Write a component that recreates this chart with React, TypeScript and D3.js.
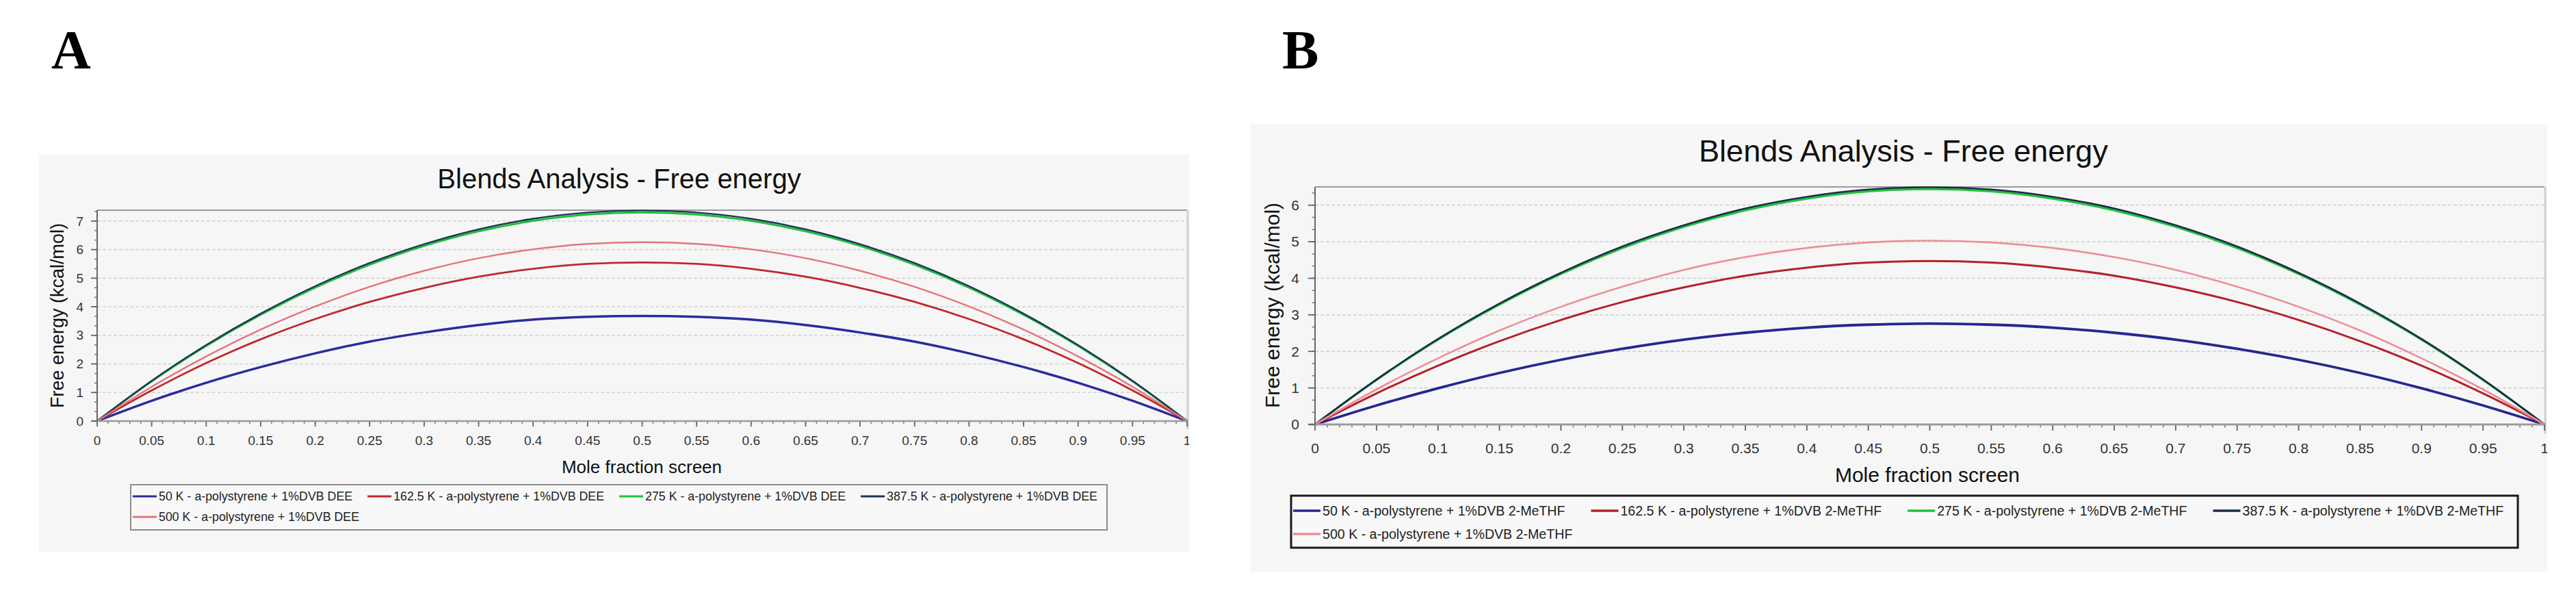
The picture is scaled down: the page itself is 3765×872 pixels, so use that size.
import * as d3 from 'd3';
import { useEffect, useRef } from 'react';

// mole fraction of screen (x values shared by every curve)
const moleFraction = [
  0, 0.05, 0.1, 0.15, 0.2, 0.25, 0.3, 0.35, 0.4, 0.45, 0.5, 0.55, 0.6, 0.65, 0.7,
  0.75, 0.8, 0.85, 0.9, 0.95, 1,
];

const xTickValues = [
  0, 0.05, 0.1, 0.15, 0.2, 0.25, 0.3, 0.35, 0.4, 0.45, 0.5, 0.55, 0.6, 0.65, 0.7,
  0.75, 0.8, 0.85, 0.9, 0.95, 1,
];
const yTicksA = [0, 1, 2, 3, 4, 5, 6, 7];
const yTicksB = [0, 1, 2, 3, 4, 5, 6];

// panel A - DEE (kcal/mol)
const deeK50 = [0, 0.71, 1.34, 1.89, 2.37, 2.78, 3.1, 3.36, 3.55, 3.65, 3.68, 3.65, 3.55, 3.36, 3.1, 2.78, 2.37, 1.89, 1.34, 0.71, 0];
const deeK162 = [0, 1.07, 2.03, 2.86, 3.57, 4.17, 4.66, 5.05, 5.33, 5.5, 5.55, 5.5, 5.33, 5.05, 4.66, 4.17, 3.57, 2.86, 2.03, 1.07, 0];
const deeK275 = [0, 1.39, 2.63, 3.72, 4.67, 5.47, 6.13, 6.64, 7.01, 7.23, 7.3, 7.23, 7.01, 6.64, 6.13, 5.47, 4.67, 3.72, 2.63, 1.39, 0];
const deeK387 = [0, 1.41, 2.66, 3.76, 4.72, 5.53, 6.19, 6.71, 7.08, 7.3, 7.37, 7.3, 7.08, 6.71, 6.19, 5.53, 4.72, 3.76, 2.66, 1.41, 0];
const deeK500 = [0, 1.2, 2.26, 3.2, 4.01, 4.7, 5.26, 5.7, 6.01, 6.2, 6.26, 6.2, 6.01, 5.7, 5.26, 4.7, 4.01, 3.2, 2.26, 1.2, 0];

// panel B - 2-MeTHF (kcal/mol)
const thfK50 = [0, 0.52, 0.99, 1.41, 1.77, 2.07, 2.32, 2.51, 2.65, 2.73, 2.76, 2.73, 2.65, 2.51, 2.32, 2.07, 1.77, 1.41, 0.99, 0.52, 0];
const thfK162 = [0, 0.85, 1.61, 2.28, 2.86, 3.35, 3.75, 4.07, 4.29, 4.43, 4.47, 4.43, 4.29, 4.07, 3.75, 3.35, 2.86, 2.28, 1.61, 0.85, 0];
const thfK275 = [0, 1.22, 2.32, 3.28, 4.12, 4.83, 5.41, 5.86, 6.18, 6.38, 6.44, 6.38, 6.18, 5.86, 5.41, 4.83, 4.12, 3.28, 2.32, 1.22, 0];
const thfK387 = [0, 1.23, 2.34, 3.31, 4.15, 4.87, 5.45, 5.91, 6.23, 6.43, 6.49, 6.43, 6.23, 5.91, 5.45, 4.87, 4.15, 3.31, 2.34, 1.23, 0];
const thfK500 = [0, 0.96, 1.81, 2.57, 3.22, 3.77, 4.23, 4.58, 4.83, 4.98, 5.03, 4.98, 4.83, 4.58, 4.23, 3.77, 3.22, 2.57, 1.81, 0.96, 0];

const legendA = [
  '50 K - a-polystyrene + 1%DVB DEE',
  '162.5 K - a-polystyrene + 1%DVB DEE',
  '275 K - a-polystyrene + 1%DVB DEE',
  '387.5 K - a-polystyrene + 1%DVB DEE',
  '500 K - a-polystyrene + 1%DVB DEE',
];
const legendB = [
  '50 K - a-polystyrene + 1%DVB 2-MeTHF',
  '162.5 K - a-polystyrene + 1%DVB 2-MeTHF',
  '275 K - a-polystyrene + 1%DVB 2-MeTHF',
  '387.5 K - a-polystyrene + 1%DVB 2-MeTHF',
  '500 K - a-polystyrene + 1%DVB 2-MeTHF',
];

const colorsA = ['#2b2b9e', '#c0282c', '#1fbf3a', '#1f3656', '#e4747e'];
const colorsB = ['#27278f', '#b3222a', '#1fc23a', '#1c2c4a', '#ee8e98'];
const widthsA = [3.5, 2.8, 3, 2.4, 2.4];
const widthsB = [3.8, 3, 3.2, 2.6, 2.6];

const FONT = "'Liberation Sans', Arial, sans-serif";

type Layout = {
  id: string;
  letter: string;
  letterX: number;
  bg: [number, number, number, number];
  left: number;
  right: number;
  top: number;
  bottom: number;
  yMax: number;
  yTicks: number[];
  title: { x: number; y: number; size: number };
  xLabel: { x: number; y: number; size: number };
  yLabel: { x: number; y: number; size: number };
  tickSize: number;
  tickGap: number;
  xTickBaseline: number;
  legend: { x0: number; y0: number; x1: number; y1: number; rows: number[]; size: number; line: number; gap: number; border: string; borderW: number };
  scale: number;
};

const layoutA: Layout = {
  id: 'A',
  letter: 'A',
  letterX: 75,
  bg: [57, 225, 1738, 806],
  left: 142,
  right: 1735,
  top: 307,
  bottom: 615,
  yMax: 7.38,
  yTicks: yTicksA,
  title: { x: 905, y: 275, size: 40 },
  xLabel: { x: 938, y: 691, size: 26 },
  yLabel: { x: 84, y: 461, size: 27 },
  tickSize: 19,
  tickGap: 20,
  xTickBaseline: 650,
  legend: { x0: 191, y0: 708, x1: 1618, y1: 774, rows: [725, 755], size: 17.8, line: 35, gap: 22, border: '#8c8c8c', borderW: 2 },
  scale: 1,
};

const layoutB: Layout = {
  id: 'B',
  letter: 'B',
  letterX: 1874,
  bg: [1827, 182, 3723, 835],
  left: 1922,
  right: 3719,
  top: 273,
  bottom: 620,
  yMax: 6.5,
  yTicks: yTicksB,
  title: { x: 2782, y: 236, size: 45 },
  xLabel: { x: 2817, y: 704, size: 30 },
  yLabel: { x: 1859, y: 446, size: 30 },
  tickSize: 21,
  tickGap: 23,
  xTickBaseline: 662,
  legend: { x0: 1887, y0: 724, x1: 3680, y1: 800, rows: [746, 780], size: 19.6, line: 40, gap: 38, border: '#1a1a1a', borderW: 3 },
  scale: 1.125,
};

function drawPanel(
  root: d3.Selection<SVGSVGElement, unknown, null, undefined>,
  L: Layout,
  series: number[][],
  labels: string[],
  colors: string[],
  widths: number[],
) {
  const s = L.scale;
  const [bx0, by0, bx1, by1] = L.bg;
  const clipId = `clip-${L.id}`;
  root
    .append('clipPath')
    .attr('id', clipId)
    .append('rect')
    .attr('x', bx0)
    .attr('y', by0)
    .attr('width', bx1 - bx0)
    .attr('height', by1 - by0);

  root
    .append('text')
    .attr('x', L.letterX)
    .attr('y', 100)
    .attr('font-family', "'Liberation Serif', 'Times New Roman', serif")
    .attr('font-weight', 'bold')
    .attr('font-size', 80)
    .attr('fill', '#000')
    .text(L.letter);

  const g = root.append('g').attr('clip-path', `url(#${clipId})`);
  g.append('rect')
    .attr('x', bx0)
    .attr('y', by0)
    .attr('width', bx1 - bx0)
    .attr('height', by1 - by0)
    .attr('fill', '#f6f6f6');

  const x = d3.scaleLinear().domain([0, 1]).range([L.left, L.right]);
  const y = d3.scaleLinear().domain([0, L.yMax]).range([L.bottom, L.top]);

  // horizontal dashed gridlines
  g.selectAll('line.grid')
    .data(L.yTicks.filter((t) => t > 0))
    .join('line')
    .attr('class', 'grid')
    .attr('x1', L.left)
    .attr('x2', L.right)
    .attr('y1', (d) => y(d))
    .attr('y2', (d) => y(d))
    .attr('stroke', '#d4d4d4')
    .attr('stroke-width', 1.6 * s)
    .attr('stroke-dasharray', '5,3');

  // plot top border and right edge
  g.append('line')
    .attr('x1', L.left)
    .attr('x2', L.right)
    .attr('y1', L.top)
    .attr('y2', L.top)
    .attr('stroke', '#9a9a9a')
    .attr('stroke-width', 2);
  g.append('line')
    .attr('x1', L.right + 1)
    .attr('x2', L.right + 1)
    .attr('y1', L.top)
    .attr('y2', L.bottom + 12 * s)
    .attr('stroke', '#d0d0d0')
    .attr('stroke-width', 3);

  // curves
  const curve = d3
    .line<number>()
    .x((_, i) => x(moleFraction[i]))
    .y((d) => y(d))
    .curve(d3.curveMonotoneX);

  series.forEach((vals, i) => {
    g.append('path')
      .datum(vals)
      .attr('d', curve)
      .attr('fill', 'none')
      .attr('stroke', colors[i])
      .attr('stroke-width', widths[i]);
  });

  // x axis
  const xMinor = d3.range(0, 100.5, 1).map((v) => v / 100);
  g.selectAll('line.xminor')
    .data(xMinor)
    .join('line')
    .attr('class', 'xminor')
    .attr('x1', (d) => x(d))
    .attr('x2', (d) => x(d))
    .attr('y1', L.bottom)
    .attr('y2', L.bottom + 4 * s)
    .attr('stroke', '#777')
    .attr('stroke-width', 1.5);
  g.selectAll('line.xmajor')
    .data(xTickValues)
    .join('line')
    .attr('class', 'xmajor')
    .attr('x1', (d) => x(d))
    .attr('x2', (d) => x(d))
    .attr('y1', L.bottom)
    .attr('y2', L.bottom + 8 * s)
    .attr('stroke', '#666')
    .attr('stroke-width', 1.8);
  g.append('line')
    .attr('x1', L.left - 8 * s)
    .attr('x2', L.right)
    .attr('y1', L.bottom)
    .attr('y2', L.bottom)
    .attr('stroke', '#9b9b9b')
    .attr('stroke-width', 2.6 * s);
  g.selectAll('text.xtick')
    .data(xTickValues)
    .join('text')
    .attr('class', 'xtick')
    .attr('x', (d) => x(d))
    .attr('y', L.xTickBaseline)
    .attr('text-anchor', 'middle')
    .attr('font-family', FONT)
    .attr('font-size', L.tickSize)
    .attr('fill', '#333')
    .text((d) => String(d));

  // y axis
  const yMinor = d3.range(0, Math.floor(L.yMax * 3) + 1).map((v) => v / 3);
  g.selectAll('line.yminor')
    .data(yMinor)
    .join('line')
    .attr('class', 'yminor')
    .attr('x1', L.left - 4 * s)
    .attr('x2', L.left)
    .attr('y1', (d) => y(d))
    .attr('y2', (d) => y(d))
    .attr('stroke', '#777')
    .attr('stroke-width', 1.5);
  g.selectAll('line.ymajor')
    .data(L.yTicks)
    .join('line')
    .attr('class', 'ymajor')
    .attr('x1', L.left - 9 * s)
    .attr('x2', L.left)
    .attr('y1', (d) => y(d))
    .attr('y2', (d) => y(d))
    .attr('stroke', '#666')
    .attr('stroke-width', 1.8);
  g.append('line')
    .attr('x1', L.left)
    .attr('x2', L.left)
    .attr('y1', L.top)
    .attr('y2', L.bottom)
    .attr('stroke', '#666')
    .attr('stroke-width', 2);
  g.selectAll('text.ytick')
    .data(L.yTicks)
    .join('text')
    .attr('class', 'ytick')
    .attr('x', L.left - L.tickGap)
    .attr('y', (d) => y(d))
    .attr('dy', '0.35em')
    .attr('text-anchor', 'end')
    .attr('font-family', FONT)
    .attr('font-size', L.tickSize)
    .attr('fill', '#333')
    .text((d) => String(d));

  // titles
  g.append('text')
    .attr('x', L.title.x)
    .attr('y', L.title.y)
    .attr('text-anchor', 'middle')
    .attr('font-family', FONT)
    .attr('font-size', L.title.size)
    .attr('fill', '#111')
    .text('Blends Analysis - Free energy');
  g.append('text')
    .attr('x', L.xLabel.x)
    .attr('y', L.xLabel.y)
    .attr('text-anchor', 'middle')
    .attr('font-family', FONT)
    .attr('font-size', L.xLabel.size)
    .attr('fill', '#111')
    .text('Mole fraction screen');
  g.append('text')
    .attr('transform', `translate(${L.yLabel.x},${L.yLabel.y}) rotate(-90)`)
    .attr('text-anchor', 'middle')
    .attr('dy', '0.35em')
    .attr('font-family', FONT)
    .attr('font-size', L.yLabel.size)
    .attr('fill', '#111')
    .text('Free energy (kcal/mol)');

  // legend
  const lg = L.legend;
  g.append('rect')
    .attr('x', lg.x0)
    .attr('y', lg.y0)
    .attr('width', lg.x1 - lg.x0)
    .attr('height', lg.y1 - lg.y0)
    .attr('fill', '#f8f8f8')
    .attr('stroke', lg.border)
    .attr('stroke-width', lg.borderW);
  let cx = lg.x0 + 3;
  labels.forEach((label, i) => {
    const row = i < 4 ? 0 : 1;
    if (i === 4) cx = lg.x0 + 3;
    const cy = lg.rows[row];
    g.append('line')
      .attr('x1', cx)
      .attr('x2', cx + lg.line)
      .attr('y1', cy)
      .attr('y2', cy)
      .attr('stroke', colors[i])
      .attr('stroke-width', 3 * s);
    const t = g
      .append('text')
      .attr('x', cx + lg.line + 3)
      .attr('y', cy)
      .attr('dy', '0.35em')
      .attr('font-family', FONT)
      .attr('font-size', lg.size)
      .attr('fill', '#222')
      .text(label);
    const w = (t.node() as SVGTextElement).getComputedTextLength();
    cx += lg.line + 3 + w + lg.gap;
  });
}

export default function App() {
  const svgRef = useRef<SVGSVGElement>(null);

  useEffect(() => {
    if (!svgRef.current) return;
    const svg = d3.select(svgRef.current);
    drawPanel(svg, layoutA, [deeK50, deeK162, deeK275, deeK387, deeK500], legendA, colorsA, widthsA);
    drawPanel(svg, layoutB, [thfK50, thfK162, thfK275, thfK387, thfK500], legendB, colorsB, widthsB);
    return () => {
      svg.selectAll('*').remove();
    };
  }, []);

  return (
    <svg
      ref={svgRef}
      width={3765}
      height={872}
      style={{ position: 'absolute', left: 0, top: 0, background: '#fff' }}
    />
  );
}
